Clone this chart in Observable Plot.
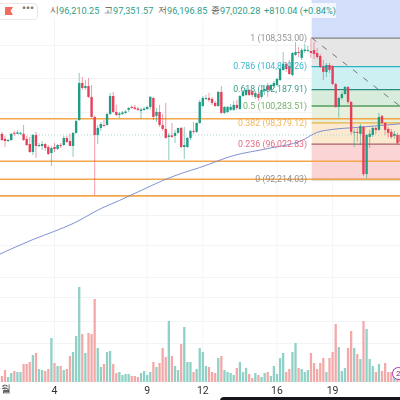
<!DOCTYPE html>
<html lang="ko">
<head>
<meta charset="utf-8">
<script src="https://cdn.jsdelivr.net/npm/d3@7"></script>
<script src="https://cdn.jsdelivr.net/npm/@observablehq/plot@0.6"></script>
<style>
  html,body{margin:0;padding:0;background:#fff;}
  #page{position:relative;width:400px;height:400px;overflow:hidden;font-family:Roboto,sans-serif;}
  #page svg{display:block;filter:blur(0.4px);}
  #toolbar{position:absolute;left:-6px;top:3px;width:42px;height:15px;background:#fff;border:1px solid #e8e8e8;border-radius:4px;}
  #flag{position:absolute;left:10px;top:3px;width:8px;height:8px;background:#f26b5b;clip-path:polygon(0 0,100% 0,70% 50%,100% 100%,0 100%);}
  #dots{position:absolute;left:27px;top:-2px;font-size:11px;letter-spacing:0;color:#777;font-weight:700;}
  #ohlc{position:absolute;left:40px;top:3px;width:296px;height:15px;background:rgba(255,255,255,.72);font-size:9.2px;line-height:15px;white-space:nowrap;}
  #ohlc span{position:absolute;top:0;}
  .k{color:#555;font-size:8.8px;} .v{color:#2f9e86;}
  #bar{position:absolute;left:220px;top:397px;width:190px;height:4px;background:#15151a;border-radius:5px 0 0 0;}
  #badge{position:absolute;left:392px;top:367px;width:11px;height:11px;border:1.2px solid #a03ab8;border-radius:50%;background:#fff;color:#7b2a90;font-size:8px;line-height:11px;text-indent:3px;}
</style>
</head>
<body>
<div id="page"></div>
<script>
// 4-hour candles, first one opens 1 Dec 2024 04:00 UTC
const opens=[97090,96530,96300,96410,97200,97090,97090,97090,96530,95970,95100,96970,95750,95750,95970,95640,94990,95640,95420,95860,95860,96640,96300,95750,97200,98640,102900,102310,102540,101270,98980,96970,97750,98080,98080,99320,101380,99550,99210,99320,99440,99780,100120,100060,99940,99660,99780,99890,100120,101150,99100,99550,98080,97640,96750,96920,96860,97200,97750,95640,95640,96640,97420,97310,98300,100230,101040,101150,101040,100580,100230,101850,99440,99550,99780,99780,100350,99890,101380,101500,102080,101850,101270,101610,101270,101960,102540,102080,102540,102660,103250,104430,105150,104910,103840,106240,106600,105870,106720,106720,106720,106840,106480,106120,104790,104200,105030,104910,102780,100120,101150,101610,102430,100690,97200,97310,97090,97860,92730,96750,96970,97750,97530,99100,98300,97640,97310,96860,96970,96190];
const highs=[97310,96860,96530,97200,97420,97530,97310,98080,96860,96750,97090,97310,96080,96300,96080,95860,95750,96080,95970,96080,96860,96860,97090,97310,98640,104080,103600,103250,103480,102660,99100,98080,98410,98640,99440,101730,101850,100350,99550,99660,99780,100120,100350,100350,100120,100000,100120,100230,101380,101270,100000,100350,99320,100580,97200,98300,97530,97750,97860,97860,96750,97530,98410,98410,100920,101380,101500,101730,101270,100810,101960,102540,100230,100230,100460,100810,100920,101500,102080,102310,102190,102080,101960,101850,102660,102660,102900,102780,103130,103480,104670,106600,105390,105630,106600,107820,107210,107090,107580,107330,108353,107820,107090,106360,105630,105270,105270,105030,102900,101270,101850,102540,102540,100810,97640,97750,98190,97970,97090,97530,97860,97860,99440,99210,98410,97860,97640,97420,97200,97090];
const lows=[96300,95640,96190,96300,96860,97090,96970,96300,95750,94990,94770,94450,95640,95320,95210,94770,93590,95100,95320,95530,95750,96080,95750,94560,97090,98530,102080,102080,101150,98870,90530,95970,97420,97860,97970,99210,99440,99100,98870,99210,99320,99550,99890,99780,99660,98750,99660,99780,99780,98640,98410,97860,97420,96530,94230,96640,96080,97090,95530,94340,95530,96410,97090,97200,98190,100120,100920,100690,100350,100120,100120,99320,99320,99440,99660,99660,99780,99780,101270,101380,101380,101270,101040,100810,101040,101500,101270,101960,102310,102540,103130,104310,104200,103840,103720,106120,105990,105630,106480,106600,105870,105750,105750,104670,103250,103600,104080,102660,100000,98870,100920,101500,100460,96970,95640,96190,95860,92520,92290,95530,96750,97090,97420,98080,96970,96640,96530,96530,95970,96080];
const closes=[96410,96300,96410,97090,97090,97250,97200,96410,95860,95100,96970,95750,95860,95970,95530,94880,95530,95420,95860,95750,96640,96190,95750,97200,98530,102900,102310,102540,101270,98980,96970,97750,98190,97970,99320,101380,99550,99210,99380,99490,99600,100000,100000,99890,99780,99830,99940,100120,101270,98980,99550,98080,97640,96640,96920,96750,97200,97750,95640,95860,96640,97420,97310,98300,100690,101150,101150,100920,100580,100230,101850,99440,100120,100120,100120,100350,100000,101380,101850,102080,101500,101500,101730,101150,102080,102190,102080,102660,102900,103370,104550,105150,104550,103960,106480,106600,106480,106840,106900,106840,106480,106360,105990,104790,104200,105030,104430,102780,100120,101150,101610,102430,100690,97310,97310,97200,97970,92730,96970,97090,97750,97530,98980,98300,97530,97200,96750,97090,96080,96970];
const volumes=[6,12,5,9,11,10,10,18,18,20,27,29,13,12,11,13,44,19,16,16,12,13,26,30,46,95,48,29,49,48,83,34,15,18,30,31,18,9,10,7,8,8,6,6,5,9,11,7,10,20,15,19,34,25,61,26,16,12,38,55,20,20,10,13,34,30,16,15,10,9,24,26,12,10,9,7,14,20,10,14,8,4,9,7,5,9,10,6,16,8,24,29,10,13,30,39,14,13,10,12,29,19,13,19,24,10,24,30,58,35,11,14,34,51,34,28,23,61,53,23,16,10,18,11,19,10,10,13,10,8];

// long moving average: candle index and value
const maIndex=[-1,10,17,23,32,38,45,52,58,64,75,86,97,102,107,115,130];
const maValues=[84640,86100,86920,87690,89200,90030,91060,92100,92850,93480,94770,95530,96410,97310,97640,97860,98300];

// Fibonacci retracement
const fibRatios=[1,0.786,0.618,0.5,0.382,0.236,0];
const fibPrices=[108353.00,104899.26,102187.91,100283.51,98379.12,96022.83,92214.03];
const fibLabels=["1 (108,353.00)","0.786 (104,899.26)","0.618 (102,187.91)","0.5 (100,283.51)","0.382 (98,379.12)","0.236 (96,022.83)","0 (92,214.03)"];
const fibLineColors=["#808080","#2fb4c4","#2a8c7c","#4f9c5c","#e3b24a","#a86464","#85786c"];
const fibTextColors=["#8a8a8a","#2db3c6","#2a9480","#69a85e","#efb04c","#df5f78","#8a8a8a"];
const fibFills=["#e6e6e6","#cdf0f3","#d8ecdc","#e8f1dd","#fbeacf","#fbd5d6"];
const skyFill="#d2defa";

// hand-drawn horizontal levels
const levels=[98830,94160,92240,90500];
const lastPrice=97020.28;
const gridPrices=[107450,103480,99550,88500,85510,82450];
const gridVolumes=[39,61,85];
const tickDays=[4,9,12,16,19];
const tickLabels=["4","9","12","16","19"];
const monthLabel="월";

const header=[["시","96,210.25",50,59],["고","97,351.57",104,113],["저","96,196.85",158,167],["종","97,020.28",211,220]];
const change="+810.04 (+0.84%)";

const H=4*3600*1000;
const firstCandle=Date.UTC(2024,11,1,4);
const at=i=>new Date(firstCandle+i*H);
const xDomain=[new Date(Date.UTC(2024,11,1,2,6)),new Date(Date.UTC(2024,11,22,15,54))];
const fibStart=new Date(Date.UTC(2024,11,17,21,30));
const xEnd=xDomain[1];
const skyTop=113120;
const yDomain=[81702,113120];

const candles=opens.map((o,i)=>({t:at(i),o,h:highs[i],l:lows[i],c:closes[i],v:volumes[i],up:closes[i]>=o}));
const ma=maIndex.map((i,k)=>({t:at(i),p:maValues[k]}));
const bands=fibFills.map((f,i)=>({y1:fibPrices[i],y2:fibPrices[i+1],f}));
bands.push({y1:skyTop,y2:fibPrices[0],f:skyFill});
const fibs=fibPrices.map((p,i)=>({p,line:fibLineColors[i],text:fibTextColors[i],label:fibLabels[i],r:fibRatios[i]}));
const UP="#1f9d87",DOWN="#e5405a";
const tickDates=tickDays.map(d=>new Date(Date.UTC(2024,11,d)));

const price=Plot.plot({
  width:400,height:285,margin:0,
  x:{type:"utc",domain:xDomain,axis:null},
  y:{type:"log",domain:yDomain,axis:null},
  marks:[
    Plot.ruleY(gridPrices,{stroke:"#f3f4f6",strokeWidth:1}),
    Plot.ruleX(tickDates,{stroke:"#f3f4f6",strokeWidth:1}),
    Plot.rect(bands,{x1:fibStart,x2:xEnd,y1:"y1",y2:"y2",fill:"f"}),
    Plot.ruleY([lastPrice],{stroke:"#a9dcd2",strokeWidth:1,strokeDasharray:"1 2"}),
    Plot.ruleY(fibs,{x1:fibStart,x2:xEnd,y:"p",stroke:"line",strokeWidth:1.3}),
    Plot.ruleY(levels,{stroke:"#f4a64a",strokeWidth:1.6}),
    Plot.line([{t:fibStart,p:108353},{t:xEnd,p:100232}],{x:"t",y:"p",stroke:"#777",strokeWidth:1,strokeDasharray:"5 8"}),
    Plot.line(ma,{x:"t",y:"p",stroke:"#7484cf",strokeWidth:0.9,curve:"monotone-x"}),
    Plot.ruleX(candles,{x:"t",y1:"l",y2:"h",stroke:d=>d.up?UP:DOWN,strokeWidth:0.7,strokeOpacity:0.75}),
    Plot.ruleX(candles,{x:"t",y1:"o",y2:"c",stroke:d=>d.up?UP:DOWN,strokeWidth:2.4}),
    Plot.text(fibs,{x:fibStart,y:"p",text:"label",fill:"text",textAnchor:"end",dx:-5,fontSize:8.8,fontFamily:"Roboto,sans-serif",fillOpacity:0.92})
  ]
});

const volume=Plot.plot({
  width:400,height:115,marginTop:0,marginLeft:0,marginRight:0,marginBottom:18,
  x:{type:"utc",domain:xDomain},
  y:{domain:[0,97],axis:null},
  marks:[
    Plot.ruleY(gridVolumes,{stroke:"#f3f4f6",strokeWidth:1}),
    Plot.ruleX(tickDates,{stroke:"#f3f4f6",strokeWidth:1}),
    Plot.ruleX(candles,{x:"t",y1:0,y2:"v",stroke:d=>d.up?"#8fd1c6":"#f4a9a9",strokeWidth:2.3}),
    Plot.axisX({ticks:tickDates,tickFormat:d=>tickLabels[tickDates.findIndex(e=>+e===+d)],tickSize:0,tickPadding:4,fontSize:10.5,fontFamily:"Roboto,sans-serif",color:"#333",label:null}),
    Plot.text([monthLabel],{x:xDomain[0],frameAnchor:"bottom",textAnchor:"start",dy:9,fontSize:9.5,fontFamily:"Roboto,sans-serif",fill:"#333"})
  ]
});

const page=document.getElementById("page");
page.append(price,volume);
page.insertAdjacentHTML("beforeend",`<div id="toolbar"><div id="flag"></div><div id="dots">•••</div></div><div id="ohlc"></div><div id="badge">2</div><div id="bar"></div>`);
const ohlc=document.getElementById("ohlc");
for(const [k,v,kx,vx] of header){
  ohlc.insertAdjacentHTML("beforeend",`<span class="k" style="left:${kx-40}px">${k}</span><span class="v" style="left:${vx-40}px">${v}</span>`);
}
ohlc.insertAdjacentHTML("beforeend",`<span class="v" style="left:${264-40}px">${change}</span>`);
</script>
</body>
</html>
